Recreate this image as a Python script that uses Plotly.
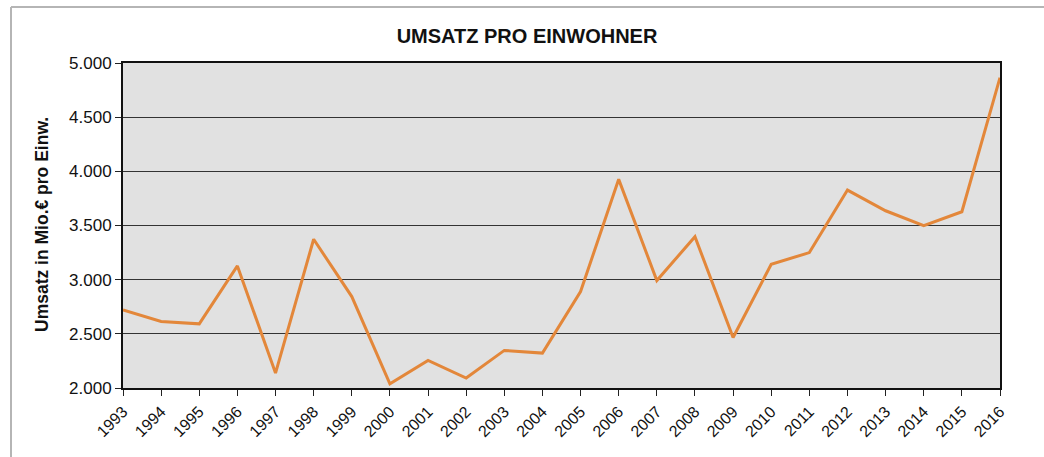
import plotly.graph_objects as go

years = list(range(1993, 2017))
umsatz = [2720, 2614, 2592, 3127, 2138, 3373, 2844, 2038, 2254, 2092, 2347, 2322,
          2890, 3926, 2992, 3397, 2466, 3142, 3250, 3827, 3636, 3498, 3627, 4865]
y_ticks = [2000, 2500, 3000, 3500, 4000, 4500, 5000]

W, H = 1044, 457
L, R, T, B = 123, 44, 63, 69
pw, ph = W - L - R, H - T - B

def px(x):
    return (x - L) / pw

def py(y):
    return (H - B - y) / ph

fig = go.Figure()
fig.add_trace(go.Scatter(
    x=years, y=umsatz, mode="lines",
    line=dict(color="#E3873A", width=3),
    showlegend=False, cliponaxis=True,
))

fig.update_layout(
    width=W, height=H,
    margin=dict(l=L, r=R, t=T, b=B),
    paper_bgcolor="white",
    plot_bgcolor="#e1e1e1",
    separators=",.",
    font=dict(family="Liberation Sans, Arial, sans-serif", color="#111111"),
    title=dict(text="<b>UMSATZ PRO EINWOHNER</b>", x=527 / W, xanchor="center",
               y=1 - 36 / H, yanchor="middle",
               font=dict(size=20, color="#111111")),
    xaxis=dict(
        range=[1993, 2016], tickmode="array", tickvals=years,
        ticktext=[str(y) for y in years], tickangle=-45,
        ticks="outside", ticklen=6, tickcolor="#222222", tickwidth=1,
        showline=True, linecolor="#111111", linewidth=2, mirror=True,
        showgrid=False, zeroline=False,
        tickfont=dict(size=16, color="#111111"),
    ),
    yaxis=dict(
        range=[2000, 5000], tickvals=y_ticks, tickformat=",d",
        ticks="outside", ticklen=6, tickcolor="#222222", tickwidth=1,
        showline=True, linecolor="#111111", linewidth=2, mirror=True,
        showgrid=True, gridcolor="#333333", gridwidth=1, zeroline=False,
        tickfont=dict(size=17, color="#111111"),
    ),
    annotations=[dict(
        text="<b>Umsatz in Mio.€ pro Einw.</b>", textangle=-90,
        xref="paper", yref="paper", x=px(42), y=py(225),
        xanchor="center", yanchor="middle", showarrow=False,
        font=dict(size=17.5, color="#111111"),
    )],
    shapes=[
        dict(type="line", xref="paper", yref="paper",
             x0=px(11), x1=px(W + 5), y0=py(7), y1=py(7),
             line=dict(color="#b5b5b5", width=2)),
        dict(type="line", xref="paper", yref="paper",
             x0=px(11), x1=px(11), y0=py(7), y1=py(H + 5),
             line=dict(color="#b5b5b5", width=2)),
    ],
)

fig.write_html(
    "out.html",
    config={"displayModeBar": False},
    post_script="document.body.style.margin='0';document.body.style.overflow='hidden';",
)
